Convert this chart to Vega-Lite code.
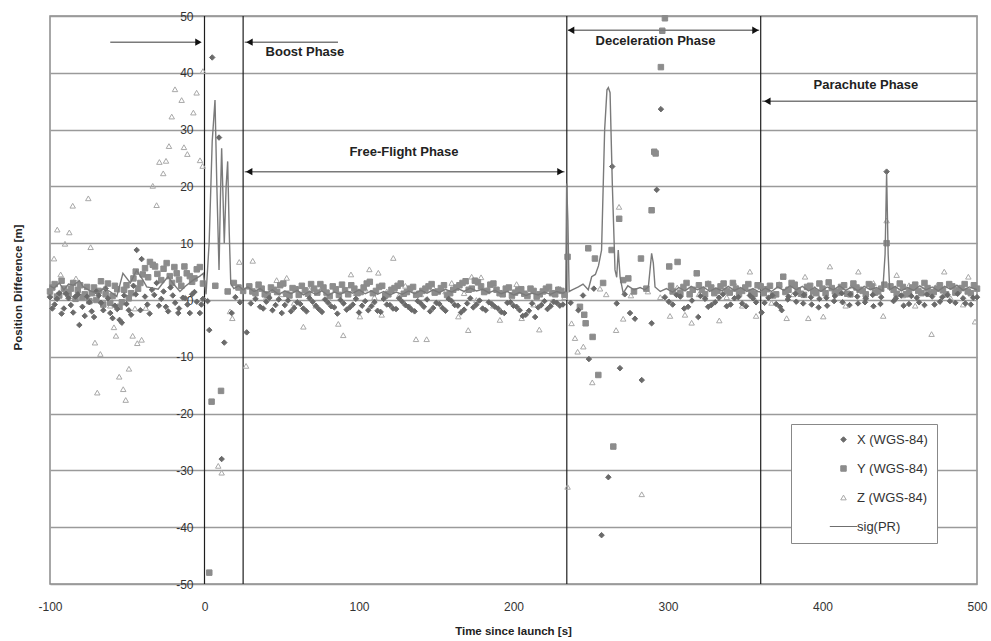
{
"$schema": "https://vega.github.io/schema/vega-lite/v6.json",
"width": 927, "height": 568,
"autosize": "none",
"padding": {"left": 50, "top": 16, "right": 14, "bottom": 57},
"background": "white",
"config": {"view": {"stroke": "#8a8a8a", "strokeWidth": 1.5}, "font": "Liberation Sans"},
"datasets": {
"phase": [{"t": 0, "v": -50, "v2": 50}, {"t": 25, "v": -50, "v2": 50}, {"t": 234.5, "v": -50, "v2": 50}, {"t": 360, "v": -50, "v2": 50}],
"shafts": [{"t": -61, "t2": -4, "v": 45.4}, {"t": 26, "t2": 86.4, "v": 45.4}, {"t": 26, "t2": 233, "v": 22.6}, {"t": 235, "t2": 359, "v": 47.5}, {"t": 361, "t2": 500, "v": 35.0}],
"headsR": [{"t": -3.9, "v": 45.4}, {"t": 230.4, "v": 22.6}, {"t": 356.6, "v": 47.5}],
"headsL": [{"t": 29.1, "v": 45.4}, {"t": 28.9, "v": 22.6}, {"t": 237.3, "v": 47.5}, {"t": 364.3, "v": 35.0}],
"labels": [{"t": 65, "v": 43.7, "label": "Boost Phase"}, {"t": 129.1, "v": 26.1, "label": "Free-Flight Phase"}, {"t": 291.9, "v": 45.65, "label": "Deceleration Phase"}, {"t": 428.1, "v": 37.85, "label": "Parachute Phase"}],
"sig": [
{"t":-100,"v":2.5},{"t":-97.4,"v":2.1},{"t":-94,"v":3.0},{"t":-91,"v":1.8},{"t":-88,"v":2.8},{"t":-84.9,"v":2.6},{"t":-81,"v":3.4},{"t":-78.4,"v":2.3},{"t":-74,"v":1.6},{"t":-69.8,"v":1.2},{"t":-65,"v":2.0},{"t":-61.2,"v":1.5},{"t":-56.8,"v":0.6},{"t":-52.8,"v":4.7},{"t":-48,"v":3.0},{"t":-44,"v":5.2},{"t":-40,"v":3.6},{"t":-37.4,"v":2.3},{"t":-30,"v":1.9},{"t":-27,"v":3.0},{"t":-23.6,"v":4.1},{"t":-20,"v":2.8},{"t":-15.9,"v":1.5},{"t":-12,"v":2.5},{"t":-7.3,"v":3.5},{"t":-3,"v":4.2},{"t":-0.8,"v":4.7},{"t":1,"v":1.0},{"t":3,"v":10},{"t":5,"v":28},{"t":6.8,"v":35.2},{"t":8,"v":20},{"t":9.4,"v":5.3},{"t":10.3,"v":18},{"t":11.1,"v":26.7},{"t":12,"v":18},{"t":12.8,"v":10},{"t":14,"v":20},{"t":15,"v":24.4},{"t":16,"v":12},{"t":17,"v":2.9},{"t":19,"v":2.0},{"t":22,"v":2.5},{"t":25,"v":1.8},{"t":28,"v":2.3},{"t":32,"v":1.5},{"t":36,"v":2.0},{"t":40,"v":1.2},{"t":44,"v":1.8},{"t":48,"v":1.0},{"t":52,"v":1.6},{"t":56,"v":1.1},{"t":60,"v":1.7},{"t":64,"v":0.9},{"t":68,"v":1.5},{"t":72,"v":1.0},{"t":76,"v":1.6},{"t":80,"v":0.8},{"t":84,"v":1.4},{"t":88,"v":1.0},{"t":92,"v":1.6},{"t":96,"v":1.2},{"t":100,"v":1.8},{"t":104,"v":1.1},{"t":108,"v":1.6},{"t":112,"v":1.0},{"t":116,"v":1.5},{"t":120,"v":0.9},{"t":124,"v":1.4},{"t":128,"v":1.0},{"t":132,"v":1.6},{"t":136,"v":1.1},{"t":140,"v":1.7},{"t":144,"v":1.2},{"t":148,"v":1.8},{"t":152,"v":1.3},{"t":156,"v":1.9},{"t":160,"v":1.4},{"t":164,"v":2.0},{"t":168,"v":1.5},{"t":172,"v":2.1},{"t":176,"v":1.6},{"t":180,"v":1.9},{"t":184,"v":1.3},{"t":188,"v":1.7},{"t":192,"v":1.1},{"t":196,"v":1.5},{"t":200,"v":0.9},{"t":204,"v":1.3},{"t":208,"v":0.8},{"t":212,"v":1.2},{"t":216,"v":0.9},{"t":220,"v":1.4},{"t":224,"v":1.0},{"t":228,"v":1.5},{"t":232,"v":1.2},{"t":233.8,"v":1.5},{"t":234.4,"v":20.5},{"t":235.2,"v":14},{"t":236,"v":1.5},{"t":238,"v":1.8},{"t":242,"v":2.3},{"t":245,"v":2.8},{"t":248.4,"v":1.8},{"t":250.6,"v":4.1},{"t":253,"v":4.5},{"t":255,"v":6.0},{"t":257,"v":8.8},{"t":259,"v":30},{"t":260.5,"v":37},{"t":261.4,"v":37.4},{"t":262.5,"v":36.5},{"t":264,"v":20},{"t":265.7,"v":5.3},{"t":266.8,"v":4.0},{"t":267.8,"v":8.8},{"t":269,"v":4.0},{"t":271,"v":1.2},{"t":274,"v":2.5},{"t":278,"v":1.8},{"t":282,"v":2.2},{"t":285,"v":1.8},{"t":287.3,"v":2.3},{"t":289.4,"v":8.2},{"t":290.5,"v":6.5},{"t":291.6,"v":2.3},{"t":295,"v":1.5},{"t":299,"v":2.0},{"t":303,"v":1.4},{"t":307,"v":2.2},{"t":311,"v":1.6},{"t":315,"v":2.4},{"t":319,"v":1.8},{"t":323,"v":2.3},{"t":327,"v":1.5},{"t":331,"v":2.1},{"t":335,"v":1.6},{"t":339,"v":2.4},{"t":343,"v":1.7},{"t":347,"v":2.2},{"t":351,"v":1.5},{"t":355,"v":2.0},{"t":359,"v":1.4},{"t":363,"v":2.1},{"t":367,"v":1.5},{"t":371,"v":2.3},{"t":375,"v":1.7},{"t":379,"v":2.5},{"t":383,"v":1.8},{"t":387,"v":2.4},{"t":391,"v":1.6},{"t":395,"v":2.2},{"t":399,"v":1.5},{"t":403,"v":2.3},{"t":407,"v":1.8},{"t":411,"v":2.5},{"t":415,"v":1.7},{"t":419,"v":2.3},{"t":423,"v":1.6},{"t":427,"v":2.4},{"t":431,"v":1.8},{"t":435,"v":2.2},{"t":439,"v":1.6},{"t":440.5,"v":8},{"t":441.5,"v":22.3},{"t":442.5,"v":8},{"t":443.5,"v":1.8},{"t":447,"v":2.4},{"t":451,"v":1.6},{"t":455,"v":2.2},{"t":459,"v":1.7},{"t":463,"v":2.5},{"t":467,"v":1.8},{"t":471,"v":2.3},{"t":475,"v":1.6},{"t":479,"v":2.4},{"t":483,"v":1.9},{"t":487,"v":2.6},{"t":491,"v":1.7},{"t":495,"v":2.3},{"t":500,"v":1.8}
],
"pts": [
{"t":-100,"s":"Z (WGS-84)","v":1.0},{"t":-97.4,"s":"Z (WGS-84)","v":7.3},{"t":-95.3,"s":"Z (WGS-84)","v":12.4},{"t":-93.1,"s":"Z (WGS-84)","v":4.5},{"t":-90.3,"s":"Z (WGS-84)","v":9.9},{"t":-87.5,"s":"Z (WGS-84)","v":11.9},{"t":-85.3,"s":"Z (WGS-84)","v":16.6},{"t":-83.2,"s":"Z (WGS-84)","v":3.8},{"t":-79,"s":"Z (WGS-84)","v":0.5},{"t":-75.2,"s":"Z (WGS-84)","v":17.9},{"t":-73.7,"s":"Z (WGS-84)","v":9.3},{"t":-70.9,"s":"Z (WGS-84)","v":-7.5},{"t":-69.4,"s":"Z (WGS-84)","v":-16.3},{"t":-67.4,"s":"Z (WGS-84)","v":-9.5},{"t":-65,"s":"Z (WGS-84)","v":2.0},{"t":-61,"s":"Z (WGS-84)","v":-1.0},{"t":-58.6,"s":"Z (WGS-84)","v":-4.8},{"t":-57.3,"s":"Z (WGS-84)","v":-6.3},{"t":-55.2,"s":"Z (WGS-84)","v":-13.5},{"t":-52.6,"s":"Z (WGS-84)","v":-15.7},{"t":-51,"s":"Z (WGS-84)","v":-17.6},{"t":-48.9,"s":"Z (WGS-84)","v":-12.1},{"t":-46.5,"s":"Z (WGS-84)","v":-6.3},{"t":-45,"s":"Z (WGS-84)","v":-1.5},{"t":-43.5,"s":"Z (WGS-84)","v":-7.6},{"t":-40.7,"s":"Z (WGS-84)","v":-7.0},{"t":-38,"s":"Z (WGS-84)","v":-1.4},{"t":-33.5,"s":"Z (WGS-84)","v":20.1},{"t":-31,"s":"Z (WGS-84)","v":16.7},{"t":-29.2,"s":"Z (WGS-84)","v":24.3},{"t":-26.7,"s":"Z (WGS-84)","v":22.3},{"t":-24.9,"s":"Z (WGS-84)","v":24.5},{"t":-23,"s":"Z (WGS-84)","v":27.1},{"t":-21.2,"s":"Z (WGS-84)","v":32.3},{"t":-19.1,"s":"Z (WGS-84)","v":37.1},{"t":-14.8,"s":"Z (WGS-84)","v":35.2},{"t":-13.3,"s":"Z (WGS-84)","v":26.9},{"t":-11.1,"s":"Z (WGS-84)","v":25.7},{"t":-7.2,"s":"Z (WGS-84)","v":33.0},{"t":-5.1,"s":"Z (WGS-84)","v":36.5},{"t":-2.9,"s":"Z (WGS-84)","v":24.6},{"t":-1.2,"s":"Z (WGS-84)","v":23.6},{"t":-1,"s":"Z (WGS-84)","v":40.3},{"t":8.9,"s":"Z (WGS-84)","v":-29.2},{"t":11.1,"s":"Z (WGS-84)","v":-30.4},{"t":16.5,"s":"Z (WGS-84)","v":-2.0},{"t":18,"s":"Z (WGS-84)","v":-3.2},{"t":22.5,"s":"Z (WGS-84)","v":6.7},{"t":26.9,"s":"Z (WGS-84)","v":-11.6},{"t":31.2,"s":"Z (WGS-84)","v":6.9},{"t":35,"s":"Z (WGS-84)","v":2.5},{"t":40,"s":"Z (WGS-84)","v":0.5},{"t":46.7,"s":"Z (WGS-84)","v":3.5},{"t":50,"s":"Z (WGS-84)","v":1.0},{"t":53.2,"s":"Z (WGS-84)","v":3.9},{"t":58,"s":"Z (WGS-84)","v":-0.5},{"t":64,"s":"Z (WGS-84)","v":-4.7},{"t":68,"s":"Z (WGS-84)","v":1.8},{"t":72,"s":"Z (WGS-84)","v":-1.0},{"t":76,"s":"Z (WGS-84)","v":2.2},{"t":80,"s":"Z (WGS-84)","v":0.3},{"t":86.6,"s":"Z (WGS-84)","v":-4.2},{"t":89.8,"s":"Z (WGS-84)","v":-6.2},{"t":94.8,"s":"Z (WGS-84)","v":4.5},{"t":98,"s":"Z (WGS-84)","v":1.2},{"t":100.6,"s":"Z (WGS-84)","v":-2.9},{"t":104,"s":"Z (WGS-84)","v":2.0},{"t":106.7,"s":"Z (WGS-84)","v":5.4},{"t":110,"s":"Z (WGS-84)","v":0.5},{"t":112.5,"s":"Z (WGS-84)","v":4.8},{"t":114.7,"s":"Z (WGS-84)","v":-2.6},{"t":118,"s":"Z (WGS-84)","v":1.5},{"t":122.2,"s":"Z (WGS-84)","v":7.4},{"t":126,"s":"Z (WGS-84)","v":0.8},{"t":130,"s":"Z (WGS-84)","v":2.5},{"t":133,"s":"Z (WGS-84)","v":-1.2},{"t":136.9,"s":"Z (WGS-84)","v":-6.9},{"t":140,"s":"Z (WGS-84)","v":1.0},{"t":143.8,"s":"Z (WGS-84)","v":-6.9},{"t":148,"s":"Z (WGS-84)","v":2.2},{"t":152,"s":"Z (WGS-84)","v":-0.5},{"t":156,"s":"Z (WGS-84)","v":1.5},{"t":160,"s":"Z (WGS-84)","v":3.0},{"t":164.3,"s":"Z (WGS-84)","v":-2.9},{"t":168,"s":"Z (WGS-84)","v":1.2},{"t":170.7,"s":"Z (WGS-84)","v":-5.3},{"t":172.9,"s":"Z (WGS-84)","v":4.1},{"t":176,"s":"Z (WGS-84)","v":0.0},{"t":179,"s":"Z (WGS-84)","v":4.0},{"t":183,"s":"Z (WGS-84)","v":1.8},{"t":187,"s":"Z (WGS-84)","v":-1.0},{"t":191.2,"s":"Z (WGS-84)","v":-3.5},{"t":195,"s":"Z (WGS-84)","v":2.0},{"t":199,"s":"Z (WGS-84)","v":0.6},{"t":202,"s":"Z (WGS-84)","v":2.8},{"t":205.3,"s":"Z (WGS-84)","v":-3.2},{"t":209,"s":"Z (WGS-84)","v":1.0},{"t":213,"s":"Z (WGS-84)","v":-0.8},{"t":216.7,"s":"Z (WGS-84)","v":-5.2},{"t":220,"s":"Z (WGS-84)","v":1.6},{"t":225,"s":"Z (WGS-84)","v":-0.3},{"t":229,"s":"Z (WGS-84)","v":2.0},{"t":233,"s":"Z (WGS-84)","v":0.5},{"t":235,"s":"Z (WGS-84)","v":-32.9},{"t":237.6,"s":"Z (WGS-84)","v":-4.1},{"t":239.8,"s":"Z (WGS-84)","v":-6.7},{"t":241.5,"s":"Z (WGS-84)","v":-9.1},{"t":245.2,"s":"Z (WGS-84)","v":-8.2},{"t":251,"s":"Z (WGS-84)","v":-14.5},{"t":256,"s":"Z (WGS-84)","v":2.0},{"t":260,"s":"Z (WGS-84)","v":1.0},{"t":266.4,"s":"Z (WGS-84)","v":-5.3},{"t":268.3,"s":"Z (WGS-84)","v":16.4},{"t":271,"s":"Z (WGS-84)","v":-3.3},{"t":276,"s":"Z (WGS-84)","v":0.8},{"t":283,"s":"Z (WGS-84)","v":-34.2},{"t":287,"s":"Z (WGS-84)","v":1.5},{"t":295,"s":"Z (WGS-84)","v":0.5},{"t":301.3,"s":"Z (WGS-84)","v":-2.8},{"t":306,"s":"Z (WGS-84)","v":2.2},{"t":311,"s":"Z (WGS-84)","v":-2.6},{"t":315.3,"s":"Z (WGS-84)","v":-4.0},{"t":320,"s":"Z (WGS-84)","v":1.0},{"t":326,"s":"Z (WGS-84)","v":3.0},{"t":333.2,"s":"Z (WGS-84)","v":-3.6},{"t":338,"s":"Z (WGS-84)","v":0.5},{"t":344,"s":"Z (WGS-84)","v":2.5},{"t":348,"s":"Z (WGS-84)","v":-1.0},{"t":353,"s":"Z (WGS-84)","v":5.0},{"t":357,"s":"Z (WGS-84)","v":-2.8},{"t":362,"s":"Z (WGS-84)","v":1.5},{"t":367,"s":"Z (WGS-84)","v":-0.5},{"t":372,"s":"Z (WGS-84)","v":2.8},{"t":376.8,"s":"Z (WGS-84)","v":-3.2},{"t":381,"s":"Z (WGS-84)","v":1.0},{"t":388.7,"s":"Z (WGS-84)","v":4.1},{"t":390.8,"s":"Z (WGS-84)","v":-3.2},{"t":395,"s":"Z (WGS-84)","v":2.0},{"t":400.5,"s":"Z (WGS-84)","v":-2.9},{"t":404.8,"s":"Z (WGS-84)","v":5.9},{"t":410,"s":"Z (WGS-84)","v":1.2},{"t":415,"s":"Z (WGS-84)","v":-1.0},{"t":419,"s":"Z (WGS-84)","v":2.5},{"t":423.2,"s":"Z (WGS-84)","v":5.0},{"t":428,"s":"Z (WGS-84)","v":0.5},{"t":433,"s":"Z (WGS-84)","v":3.0},{"t":439.3,"s":"Z (WGS-84)","v":-2.8},{"t":441.5,"s":"Z (WGS-84)","v":14.0},{"t":448,"s":"Z (WGS-84)","v":4.4},{"t":452,"s":"Z (WGS-84)","v":0.8},{"t":456,"s":"Z (WGS-84)","v":2.6},{"t":460,"s":"Z (WGS-84)","v":-1.0},{"t":465,"s":"Z (WGS-84)","v":1.8},{"t":470.6,"s":"Z (WGS-84)","v":-6.0},{"t":474,"s":"Z (WGS-84)","v":2.5},{"t":478.8,"s":"Z (WGS-84)","v":5.0},{"t":483,"s":"Z (WGS-84)","v":0.3},{"t":487,"s":"Z (WGS-84)","v":2.2},{"t":491,"s":"Z (WGS-84)","v":-0.8},{"t":494.4,"s":"Z (WGS-84)","v":4.1},{"t":498.7,"s":"Z (WGS-84)","v":-3.8},
{"t":-100,"s":"Y (WGS-84)","v":1.5},{"t":-97,"s":"Y (WGS-84)","v":2.8},{"t":-94,"s":"Y (WGS-84)","v":0.8},{"t":-91,"s":"Y (WGS-84)","v":2.0},{"t":-88,"s":"Y (WGS-84)","v":1.0},{"t":-85,"s":"Y (WGS-84)","v":3.0},{"t":-82,"s":"Y (WGS-84)","v":1.8},{"t":-79,"s":"Y (WGS-84)","v":0.5},{"t":-76,"s":"Y (WGS-84)","v":2.3},{"t":-73,"s":"Y (WGS-84)","v":1.2},{"t":-70,"s":"Y (WGS-84)","v":0.0},{"t":-67,"s":"Y (WGS-84)","v":3.3},{"t":-64,"s":"Y (WGS-84)","v":1.0},{"t":-61,"s":"Y (WGS-84)","v":-0.5},{"t":-58,"s":"Y (WGS-84)","v":2.5},{"t":-55,"s":"Y (WGS-84)","v":-1.2},{"t":-52,"s":"Y (WGS-84)","v":1.8},{"t":-49,"s":"Y (WGS-84)","v":0.3},{"t":-46,"s":"Y (WGS-84)","v":3.8},{"t":-43,"s":"Y (WGS-84)","v":2.0},{"t":-40,"s":"Y (WGS-84)","v":4.5},{"t":-35.3,"s":"Y (WGS-84)","v":6.7},{"t":-32,"s":"Y (WGS-84)","v":5.9},{"t":-28,"s":"Y (WGS-84)","v":3.5},{"t":-24.5,"s":"Y (WGS-84)","v":6.5},{"t":-21,"s":"Y (WGS-84)","v":3.0},{"t":-18,"s":"Y (WGS-84)","v":4.7},{"t":-15,"s":"Y (WGS-84)","v":2.5},{"t":-11.5,"s":"Y (WGS-84)","v":4.7},{"t":-8,"s":"Y (WGS-84)","v":3.2},{"t":-5,"s":"Y (WGS-84)","v":5.4},{"t":-1,"s":"Y (WGS-84)","v":2.9},
{"t":-98.5,"s":"Y (WGS-84)","v":2.2},{"t":-95.5,"s":"Y (WGS-84)","v":0.6},{"t":-92.5,"s":"Y (WGS-84)","v":3.4},{"t":-89.5,"s":"Y (WGS-84)","v":1.4},{"t":-86.5,"s":"Y (WGS-84)","v":2.0},{"t":-83.5,"s":"Y (WGS-84)","v":0.2},{"t":-80.5,"s":"Y (WGS-84)","v":2.6},{"t":-77.5,"s":"Y (WGS-84)","v":1.0},{"t":-74.5,"s":"Y (WGS-84)","v":-0.2},{"t":-71.5,"s":"Y (WGS-84)","v":2.2},{"t":-68.5,"s":"Y (WGS-84)","v":1.6},{"t":-65.5,"s":"Y (WGS-84)","v":-0.8},{"t":-62.5,"s":"Y (WGS-84)","v":2.9},{"t":-59.5,"s":"Y (WGS-84)","v":0.7},{"t":-56.5,"s":"Y (WGS-84)","v":1.9},{"t":-53.5,"s":"Y (WGS-84)","v":-0.4},{"t":-50.5,"s":"Y (WGS-84)","v":2.6},{"t":-47.5,"s":"Y (WGS-84)","v":1.2},{"t":-44.5,"s":"Y (WGS-84)","v":5.0},{"t":-41.5,"s":"Y (WGS-84)","v":3.0},{"t":-38.5,"s":"Y (WGS-84)","v":5.6},{"t":-36.5,"s":"Y (WGS-84)","v":4.0},{"t":-33.5,"s":"Y (WGS-84)","v":6.2},{"t":-30.5,"s":"Y (WGS-84)","v":4.6},{"t":-26.5,"s":"Y (WGS-84)","v":5.5},{"t":-22.5,"s":"Y (WGS-84)","v":4.2},{"t":-19.5,"s":"Y (WGS-84)","v":5.8},{"t":-16.5,"s":"Y (WGS-84)","v":3.6},{"t":-13,"s":"Y (WGS-84)","v":5.9},{"t":-9.5,"s":"Y (WGS-84)","v":4.2},{"t":-6.5,"s":"Y (WGS-84)","v":3.8},{"t":-3,"s":"Y (WGS-84)","v":5.8},
{"t":3.1,"s":"Y (WGS-84)","v":-48.0},{"t":4.6,"s":"Y (WGS-84)","v":-17.9},{"t":7,"s":"Y (WGS-84)","v":2.5},{"t":10.7,"s":"Y (WGS-84)","v":-16.0},{"t":15,"s":"Y (WGS-84)","v":1.5},{"t":19,"s":"Y (WGS-84)","v":3.0},{"t":22,"s":"Y (WGS-84)","v":2.2},{"t":25,"s":"Y (WGS-84)","v":1.6},{"t":29,"s":"Y (WGS-84)","v":2.4},{"t":33,"s":"Y (WGS-84)","v":1.2},{"t":37,"s":"Y (WGS-84)","v":2.0},{"t":41,"s":"Y (WGS-84)","v":0.8},{"t":45,"s":"Y (WGS-84)","v":1.8},{"t":49,"s":"Y (WGS-84)","v":2.6},{"t":53,"s":"Y (WGS-84)","v":1.1},{"t":57,"s":"Y (WGS-84)","v":2.1},{"t":61,"s":"Y (WGS-84)","v":0.9},{"t":65,"s":"Y (WGS-84)","v":1.7},{"t":69,"s":"Y (WGS-84)","v":2.8},{"t":73,"s":"Y (WGS-84)","v":1.3},{"t":77,"s":"Y (WGS-84)","v":2.2},{"t":81,"s":"Y (WGS-84)","v":0.7},{"t":85,"s":"Y (WGS-84)","v":1.9},{"t":89,"s":"Y (WGS-84)","v":2.7},{"t":93,"s":"Y (WGS-84)","v":1.0},{"t":97,"s":"Y (WGS-84)","v":2.0},{"t":101,"s":"Y (WGS-84)","v":1.4},{"t":105,"s":"Y (WGS-84)","v":2.9},{"t":109,"s":"Y (WGS-84)","v":1.2},{"t":113,"s":"Y (WGS-84)","v":2.3},{"t":117,"s":"Y (WGS-84)","v":0.8},{"t":121,"s":"Y (WGS-84)","v":1.8},{"t":125,"s":"Y (WGS-84)","v":2.5},{"t":129,"s":"Y (WGS-84)","v":1.1},{"t":133,"s":"Y (WGS-84)","v":2.0},{"t":137,"s":"Y (WGS-84)","v":0.9},{"t":141,"s":"Y (WGS-84)","v":1.6},{"t":145,"s":"Y (WGS-84)","v":2.4},{"t":149,"s":"Y (WGS-84)","v":1.3},{"t":153,"s":"Y (WGS-84)","v":2.1},{"t":157,"s":"Y (WGS-84)","v":0.9},{"t":161,"s":"Y (WGS-84)","v":1.8},{"t":165,"s":"Y (WGS-84)","v":2.6},{"t":169,"s":"Y (WGS-84)","v":3.3},{"t":173,"s":"Y (WGS-84)","v":2.0},{"t":177,"s":"Y (WGS-84)","v":3.1},{"t":181,"s":"Y (WGS-84)","v":1.4},{"t":185,"s":"Y (WGS-84)","v":2.7},{"t":189,"s":"Y (WGS-84)","v":1.8},{"t":193,"s":"Y (WGS-84)","v":1.0},{"t":197,"s":"Y (WGS-84)","v":2.2},{"t":201,"s":"Y (WGS-84)","v":1.3},{"t":205,"s":"Y (WGS-84)","v":1.9},{"t":209,"s":"Y (WGS-84)","v":0.7},{"t":213,"s":"Y (WGS-84)","v":1.6},{"t":217,"s":"Y (WGS-84)","v":1.0},{"t":221,"s":"Y (WGS-84)","v":2.0},{"t":225,"s":"Y (WGS-84)","v":1.2},{"t":229,"s":"Y (WGS-84)","v":1.8},{"t":233,"s":"Y (WGS-84)","v":0.9},
{"t":31,"s":"Y (WGS-84)","v":1.5},{"t":35,"s":"Y (WGS-84)","v":2.7},{"t":39,"s":"Y (WGS-84)","v":1.0},{"t":43,"s":"Y (WGS-84)","v":2.2},{"t":47,"s":"Y (WGS-84)","v":1.4},{"t":51,"s":"Y (WGS-84)","v":2.9},{"t":55,"s":"Y (WGS-84)","v":0.8},{"t":59,"s":"Y (WGS-84)","v":1.9},{"t":63,"s":"Y (WGS-84)","v":2.5},{"t":67,"s":"Y (WGS-84)","v":1.1},{"t":71,"s":"Y (WGS-84)","v":2.0},{"t":75,"s":"Y (WGS-84)","v":2.8},{"t":79,"s":"Y (WGS-84)","v":1.3},{"t":83,"s":"Y (WGS-84)","v":2.4},{"t":87,"s":"Y (WGS-84)","v":0.9},{"t":91,"s":"Y (WGS-84)","v":1.7},{"t":95,"s":"Y (WGS-84)","v":2.6},{"t":99,"s":"Y (WGS-84)","v":1.2},{"t":103,"s":"Y (WGS-84)","v":2.2},{"t":107,"s":"Y (WGS-84)","v":3.2},{"t":111,"s":"Y (WGS-84)","v":1.6},{"t":115,"s":"Y (WGS-84)","v":2.5},{"t":119,"s":"Y (WGS-84)","v":1.0},{"t":123,"s":"Y (WGS-84)","v":2.1},{"t":127,"s":"Y (WGS-84)","v":2.9},{"t":131,"s":"Y (WGS-84)","v":1.4},{"t":135,"s":"Y (WGS-84)","v":2.3},{"t":139,"s":"Y (WGS-84)","v":1.1},{"t":143,"s":"Y (WGS-84)","v":2.0},{"t":147,"s":"Y (WGS-84)","v":2.8},{"t":151,"s":"Y (WGS-84)","v":1.5},{"t":155,"s":"Y (WGS-84)","v":2.6},{"t":159,"s":"Y (WGS-84)","v":1.2},{"t":163,"s":"Y (WGS-84)","v":2.2},{"t":167,"s":"Y (WGS-84)","v":3.0},{"t":171,"s":"Y (WGS-84)","v":1.8},{"t":175,"s":"Y (WGS-84)","v":3.4},{"t":179,"s":"Y (WGS-84)","v":2.4},{"t":183,"s":"Y (WGS-84)","v":1.6},{"t":187,"s":"Y (WGS-84)","v":2.9},{"t":191,"s":"Y (WGS-84)","v":1.2},{"t":195,"s":"Y (WGS-84)","v":2.0},{"t":199,"s":"Y (WGS-84)","v":0.8},{"t":203,"s":"Y (WGS-84)","v":1.7},{"t":207,"s":"Y (WGS-84)","v":1.1},{"t":211,"s":"Y (WGS-84)","v":2.0},{"t":215,"s":"Y (WGS-84)","v":0.6},{"t":219,"s":"Y (WGS-84)","v":1.5},{"t":223,"s":"Y (WGS-84)","v":2.3},{"t":227,"s":"Y (WGS-84)","v":1.0},{"t":231,"s":"Y (WGS-84)","v":1.6},
{"t":235,"s":"Y (WGS-84)","v":7.6},{"t":243,"s":"Y (WGS-84)","v":-1.2},{"t":245.8,"s":"Y (WGS-84)","v":-2.6},{"t":246.7,"s":"Y (WGS-84)","v":-4.1},{"t":248.4,"s":"Y (WGS-84)","v":9.1},{"t":251.2,"s":"Y (WGS-84)","v":-6.5},{"t":252.7,"s":"Y (WGS-84)","v":7.3},{"t":254.9,"s":"Y (WGS-84)","v":-13.2},{"t":258,"s":"Y (WGS-84)","v":3.0},{"t":263.5,"s":"Y (WGS-84)","v":8.8},{"t":264.6,"s":"Y (WGS-84)","v":-25.8},{"t":268.4,"s":"Y (WGS-84)","v":14.3},{"t":271,"s":"Y (WGS-84)","v":3.5},{"t":274.3,"s":"Y (WGS-84)","v":3.8},{"t":278,"s":"Y (WGS-84)","v":1.5},{"t":282.5,"s":"Y (WGS-84)","v":7.3},{"t":286,"s":"Y (WGS-84)","v":2.0},{"t":289.4,"s":"Y (WGS-84)","v":15.8},{"t":291.1,"s":"Y (WGS-84)","v":26.1},{"t":292,"s":"Y (WGS-84)","v":25.8},{"t":295.4,"s":"Y (WGS-84)","v":41.0},{"t":296.3,"s":"Y (WGS-84)","v":47.4},{"t":298,"s":"Y (WGS-84)","v":49.6},{"t":300.8,"s":"Y (WGS-84)","v":5.9},{"t":303,"s":"Y (WGS-84)","v":1.5},{"t":306.2,"s":"Y (WGS-84)","v":6.7},{"t":310,"s":"Y (WGS-84)","v":2.3},{"t":314,"s":"Y (WGS-84)","v":1.0},{"t":318.6,"s":"Y (WGS-84)","v":4.7},{"t":322,"s":"Y (WGS-84)","v":1.8},{"t":326,"s":"Y (WGS-84)","v":2.8},{"t":330,"s":"Y (WGS-84)","v":1.2},{"t":334,"s":"Y (WGS-84)","v":2.4},{"t":338,"s":"Y (WGS-84)","v":1.6},{"t":342,"s":"Y (WGS-84)","v":3.0},{"t":346,"s":"Y (WGS-84)","v":1.1},{"t":350,"s":"Y (WGS-84)","v":2.2},{"t":354,"s":"Y (WGS-84)","v":1.4},{"t":358,"s":"Y (WGS-84)","v":2.6},
{"t":302,"s":"Y (WGS-84)","v":2.5},{"t":308,"s":"Y (WGS-84)","v":1.2},{"t":312,"s":"Y (WGS-84)","v":3.0},{"t":316,"s":"Y (WGS-84)","v":1.8},{"t":320,"s":"Y (WGS-84)","v":2.6},{"t":324,"s":"Y (WGS-84)","v":1.0},{"t":328,"s":"Y (WGS-84)","v":2.2},{"t":332,"s":"Y (WGS-84)","v":1.6},{"t":336,"s":"Y (WGS-84)","v":2.9},{"t":340,"s":"Y (WGS-84)","v":1.3},{"t":344,"s":"Y (WGS-84)","v":2.0},{"t":348,"s":"Y (WGS-84)","v":1.6},{"t":352,"s":"Y (WGS-84)","v":2.8},{"t":356,"s":"Y (WGS-84)","v":1.1},{"t":360,"s":"Y (WGS-84)","v":2.4},
{"t":362,"s":"Y (WGS-84)","v":1.2},{"t":366,"s":"Y (WGS-84)","v":2.5},{"t":370,"s":"Y (WGS-84)","v":1.0},{"t":374.6,"s":"Y (WGS-84)","v":4.1},{"t":378,"s":"Y (WGS-84)","v":1.8},{"t":382,"s":"Y (WGS-84)","v":2.7},{"t":386,"s":"Y (WGS-84)","v":1.1},{"t":390,"s":"Y (WGS-84)","v":2.3},{"t":394,"s":"Y (WGS-84)","v":1.5},{"t":398,"s":"Y (WGS-84)","v":2.9},{"t":402,"s":"Y (WGS-84)","v":1.2},{"t":406,"s":"Y (WGS-84)","v":2.1},{"t":410,"s":"Y (WGS-84)","v":1.4},{"t":414,"s":"Y (WGS-84)","v":2.6},{"t":418,"s":"Y (WGS-84)","v":1.0},{"t":422,"s":"Y (WGS-84)","v":2.2},{"t":426,"s":"Y (WGS-84)","v":1.6},{"t":430,"s":"Y (WGS-84)","v":2.8},{"t":434,"s":"Y (WGS-84)","v":1.3},{"t":438,"s":"Y (WGS-84)","v":2.0},{"t":441.5,"s":"Y (WGS-84)","v":10.0},{"t":444,"s":"Y (WGS-84)","v":2.4},{"t":448,"s":"Y (WGS-84)","v":1.1},{"t":452,"s":"Y (WGS-84)","v":2.3},{"t":456,"s":"Y (WGS-84)","v":1.5},{"t":460,"s":"Y (WGS-84)","v":2.7},{"t":464,"s":"Y (WGS-84)","v":1.2},{"t":468,"s":"Y (WGS-84)","v":2.1},{"t":472,"s":"Y (WGS-84)","v":1.4},{"t":476,"s":"Y (WGS-84)","v":2.6},{"t":480,"s":"Y (WGS-84)","v":1.0},{"t":484,"s":"Y (WGS-84)","v":2.4},{"t":488,"s":"Y (WGS-84)","v":1.7},{"t":492,"s":"Y (WGS-84)","v":2.8},{"t":496,"s":"Y (WGS-84)","v":1.2},{"t":500,"s":"Y (WGS-84)","v":2.0},
{"t":364,"s":"Y (WGS-84)","v":1.9},{"t":368,"s":"Y (WGS-84)","v":0.8},{"t":372,"s":"Y (WGS-84)","v":2.6},{"t":376,"s":"Y (WGS-84)","v":1.4},{"t":380,"s":"Y (WGS-84)","v":3.0},{"t":384,"s":"Y (WGS-84)","v":1.7},{"t":388,"s":"Y (WGS-84)","v":0.9},{"t":392,"s":"Y (WGS-84)","v":2.5},{"t":396,"s":"Y (WGS-84)","v":1.2},{"t":400,"s":"Y (WGS-84)","v":2.0},{"t":404,"s":"Y (WGS-84)","v":3.1},{"t":408,"s":"Y (WGS-84)","v":1.5},{"t":412,"s":"Y (WGS-84)","v":2.3},{"t":416,"s":"Y (WGS-84)","v":1.1},{"t":420,"s":"Y (WGS-84)","v":2.9},{"t":424,"s":"Y (WGS-84)","v":1.8},{"t":428,"s":"Y (WGS-84)","v":1.0},{"t":432,"s":"Y (WGS-84)","v":2.4},{"t":436,"s":"Y (WGS-84)","v":1.5},{"t":440,"s":"Y (WGS-84)","v":2.7},{"t":446,"s":"Y (WGS-84)","v":1.8},{"t":450,"s":"Y (WGS-84)","v":2.9},{"t":454,"s":"Y (WGS-84)","v":1.0},{"t":458,"s":"Y (WGS-84)","v":2.2},{"t":462,"s":"Y (WGS-84)","v":1.6},{"t":466,"s":"Y (WGS-84)","v":3.0},{"t":470,"s":"Y (WGS-84)","v":1.1},{"t":474,"s":"Y (WGS-84)","v":2.0},{"t":478,"s":"Y (WGS-84)","v":1.7},{"t":482,"s":"Y (WGS-84)","v":2.8},{"t":486,"s":"Y (WGS-84)","v":1.3},{"t":490,"s":"Y (WGS-84)","v":2.1},{"t":494,"s":"Y (WGS-84)","v":1.5},{"t":498,"s":"Y (WGS-84)","v":2.6},
{"t":-100,"s":"X (WGS-84)","v":0.5},{"t":-97,"s":"X (WGS-84)","v":-0.8},{"t":-94,"s":"X (WGS-84)","v":1.2},{"t":-91,"s":"X (WGS-84)","v":-1.5},{"t":-88,"s":"X (WGS-84)","v":0.3},{"t":-85,"s":"X (WGS-84)","v":-2.2},{"t":-82,"s":"X (WGS-84)","v":1.0},{"t":-81,"s":"X (WGS-84)","v":-4.4},{"t":-79,"s":"X (WGS-84)","v":-1.2},{"t":-76,"s":"X (WGS-84)","v":0.6},{"t":-73,"s":"X (WGS-84)","v":-2.0},{"t":-70,"s":"X (WGS-84)","v":1.5},{"t":-67,"s":"X (WGS-84)","v":-0.5},{"t":-64,"s":"X (WGS-84)","v":2.0},{"t":-61,"s":"X (WGS-84)","v":-2.3},{"t":-58,"s":"X (WGS-84)","v":-1.0},{"t":-55,"s":"X (WGS-84)","v":-3.5},{"t":-52,"s":"X (WGS-84)","v":0.8},{"t":-49,"s":"X (WGS-84)","v":-1.8},{"t":-46,"s":"X (WGS-84)","v":2.5},{"t":-43.9,"s":"X (WGS-84)","v":8.8},{"t":-40.7,"s":"X (WGS-84)","v":7.2},{"t":-37,"s":"X (WGS-84)","v":-0.8},{"t":-34,"s":"X (WGS-84)","v":1.8},{"t":-31,"s":"X (WGS-84)","v":3.0},{"t":-28,"s":"X (WGS-84)","v":0.2},{"t":-25,"s":"X (WGS-84)","v":-1.2},{"t":-22,"s":"X (WGS-84)","v":2.2},{"t":-19,"s":"X (WGS-84)","v":-0.5},{"t":-17,"s":"X (WGS-84)","v":-2.3},{"t":-14,"s":"X (WGS-84)","v":0.4},{"t":-11,"s":"X (WGS-84)","v":-0.8},{"t":-8,"s":"X (WGS-84)","v":1.0},{"t":-5,"s":"X (WGS-84)","v":-0.3},{"t":-3,"s":"X (WGS-84)","v":-2.3},{"t":-1,"s":"X (WGS-84)","v":0.2},
{"t":-98.5,"s":"X (WGS-84)","v":-1.5},{"t":-95.5,"s":"X (WGS-84)","v":0.2},{"t":-92.5,"s":"X (WGS-84)","v":-2.4},{"t":-89.5,"s":"X (WGS-84)","v":1.1},{"t":-86.5,"s":"X (WGS-84)","v":-0.9},{"t":-83.5,"s":"X (WGS-84)","v":0.6},{"t":-77.5,"s":"X (WGS-84)","v":-2.8},{"t":-74.5,"s":"X (WGS-84)","v":-0.4},{"t":-71.5,"s":"X (WGS-84)","v":-3.0},{"t":-68.5,"s":"X (WGS-84)","v":0.8},{"t":-65.5,"s":"X (WGS-84)","v":-1.8},{"t":-62.5,"s":"X (WGS-84)","v":0.3},{"t":-59.5,"s":"X (WGS-84)","v":-3.2},{"t":-56.5,"s":"X (WGS-84)","v":-1.6},{"t":-53.5,"s":"X (WGS-84)","v":-4.0},{"t":-50.5,"s":"X (WGS-84)","v":-0.7},{"t":-47.5,"s":"X (WGS-84)","v":-2.6},{"t":-44.5,"s":"X (WGS-84)","v":1.0},{"t":-41.5,"s":"X (WGS-84)","v":-1.8},{"t":-38.5,"s":"X (WGS-84)","v":0.6},{"t":-35.5,"s":"X (WGS-84)","v":-2.4},{"t":-32.5,"s":"X (WGS-84)","v":0.9},{"t":-29.5,"s":"X (WGS-84)","v":-1.0},{"t":-26.5,"s":"X (WGS-84)","v":1.5},{"t":-23.5,"s":"X (WGS-84)","v":-2.0},{"t":-20.5,"s":"X (WGS-84)","v":0.8},{"t":-16.5,"s":"X (WGS-84)","v":-1.5},{"t":-12.5,"s":"X (WGS-84)","v":0.3},{"t":-9.5,"s":"X (WGS-84)","v":-2.3},{"t":-6.5,"s":"X (WGS-84)","v":1.4},{"t":-2,"s":"X (WGS-84)","v":-0.8},
{"t":2,"s":"X (WGS-84)","v":-0.2},{"t":3.1,"s":"X (WGS-84)","v":-5.3},{"t":5,"s":"X (WGS-84)","v":42.7},{"t":9.4,"s":"X (WGS-84)","v":28.6},{"t":11.1,"s":"X (WGS-84)","v":-28.0},{"t":12.8,"s":"X (WGS-84)","v":-7.5},{"t":17.6,"s":"X (WGS-84)","v":-2.3},{"t":20,"s":"X (WGS-84)","v":0.5},{"t":23,"s":"X (WGS-84)","v":-0.4},{"t":27.3,"s":"X (WGS-84)","v":-5.7},{"t":30,"s":"X (WGS-84)","v":-0.6},{"t":33,"s":"X (WGS-84)","v":0.2},{"t":36,"s":"X (WGS-84)","v":-1.2},{"t":40,"s":"X (WGS-84)","v":-0.3},{"t":44,"s":"X (WGS-84)","v":-1.8},{"t":48,"s":"X (WGS-84)","v":0.1},{"t":52,"s":"X (WGS-84)","v":-0.9},{"t":56,"s":"X (WGS-84)","v":-2.0},{"t":60,"s":"X (WGS-84)","v":-0.4},{"t":64,"s":"X (WGS-84)","v":-1.5},{"t":68,"s":"X (WGS-84)","v":0.3},{"t":72,"s":"X (WGS-84)","v":-1.0},{"t":76,"s":"X (WGS-84)","v":-2.1},{"t":80,"s":"X (WGS-84)","v":-0.5},{"t":84,"s":"X (WGS-84)","v":-1.3},{"t":88,"s":"X (WGS-84)","v":0.0},{"t":92,"s":"X (WGS-84)","v":-1.7},{"t":96,"s":"X (WGS-84)","v":-0.8},{"t":100,"s":"X (WGS-84)","v":-2.2},{"t":104,"s":"X (WGS-84)","v":-0.2},{"t":108,"s":"X (WGS-84)","v":-1.1},{"t":112,"s":"X (WGS-84)","v":-1.9},{"t":116,"s":"X (WGS-84)","v":0.2},{"t":120,"s":"X (WGS-84)","v":-0.9},{"t":124,"s":"X (WGS-84)","v":-1.6},{"t":128,"s":"X (WGS-84)","v":-0.3},{"t":132,"s":"X (WGS-84)","v":-1.2},{"t":136,"s":"X (WGS-84)","v":-2.0},{"t":140,"s":"X (WGS-84)","v":-0.6},{"t":144,"s":"X (WGS-84)","v":0.1},{"t":148,"s":"X (WGS-84)","v":-1.4},{"t":152,"s":"X (WGS-84)","v":-0.7},{"t":156,"s":"X (WGS-84)","v":-1.9},{"t":160,"s":"X (WGS-84)","v":-0.2},{"t":164,"s":"X (WGS-84)","v":-1.0},{"t":168,"s":"X (WGS-84)","v":-1.7},{"t":172,"s":"X (WGS-84)","v":0.3},{"t":176,"s":"X (WGS-84)","v":-0.8},{"t":180,"s":"X (WGS-84)","v":-1.5},{"t":184,"s":"X (WGS-84)","v":-0.4},{"t":188,"s":"X (WGS-84)","v":-1.2},{"t":192,"s":"X (WGS-84)","v":-2.1},{"t":196,"s":"X (WGS-84)","v":-0.5},{"t":200,"s":"X (WGS-84)","v":-1.0},{"t":204,"s":"X (WGS-84)","v":-1.8},{"t":208,"s":"X (WGS-84)","v":-2.6},{"t":212,"s":"X (WGS-84)","v":-0.6},{"t":216,"s":"X (WGS-84)","v":-1.3},{"t":220,"s":"X (WGS-84)","v":-0.2},{"t":224,"s":"X (WGS-84)","v":-1.1},{"t":228,"s":"X (WGS-84)","v":-0.5},{"t":232,"s":"X (WGS-84)","v":-0.8},
{"t":38,"s":"X (WGS-84)","v":-1.5},{"t":42,"s":"X (WGS-84)","v":0.4},{"t":46,"s":"X (WGS-84)","v":-0.9},{"t":50,"s":"X (WGS-84)","v":-2.3},{"t":54,"s":"X (WGS-84)","v":-0.1},{"t":58,"s":"X (WGS-84)","v":-1.4},{"t":62,"s":"X (WGS-84)","v":-0.7},{"t":66,"s":"X (WGS-84)","v":-2.0},{"t":70,"s":"X (WGS-84)","v":-0.3},{"t":74,"s":"X (WGS-84)","v":-1.6},{"t":78,"s":"X (WGS-84)","v":0.1},{"t":82,"s":"X (WGS-84)","v":-1.1},{"t":86,"s":"X (WGS-84)","v":-2.4},{"t":90,"s":"X (WGS-84)","v":-0.6},{"t":94,"s":"X (WGS-84)","v":-1.3},{"t":98,"s":"X (WGS-84)","v":0.2},{"t":102,"s":"X (WGS-84)","v":-1.0},{"t":106,"s":"X (WGS-84)","v":-1.8},{"t":110,"s":"X (WGS-84)","v":-0.4},{"t":114,"s":"X (WGS-84)","v":-2.1},{"t":118,"s":"X (WGS-84)","v":-0.8},{"t":122,"s":"X (WGS-84)","v":-1.5},{"t":126,"s":"X (WGS-84)","v":0.3},{"t":130,"s":"X (WGS-84)","v":-0.9},{"t":134,"s":"X (WGS-84)","v":-1.7},{"t":138,"s":"X (WGS-84)","v":-0.2},{"t":142,"s":"X (WGS-84)","v":-1.2},{"t":146,"s":"X (WGS-84)","v":-2.0},{"t":150,"s":"X (WGS-84)","v":-0.5},{"t":154,"s":"X (WGS-84)","v":-1.4},{"t":158,"s":"X (WGS-84)","v":0.2},{"t":162,"s":"X (WGS-84)","v":-0.9},{"t":166,"s":"X (WGS-84)","v":-2.2},{"t":170,"s":"X (WGS-84)","v":-0.6},{"t":174,"s":"X (WGS-84)","v":-1.3},{"t":178,"s":"X (WGS-84)","v":-0.1},{"t":182,"s":"X (WGS-84)","v":-1.8},{"t":186,"s":"X (WGS-84)","v":-0.7},{"t":190,"s":"X (WGS-84)","v":-1.5},{"t":194,"s":"X (WGS-84)","v":-2.3},{"t":198,"s":"X (WGS-84)","v":-0.4},{"t":202,"s":"X (WGS-84)","v":-1.2},{"t":206,"s":"X (WGS-84)","v":-2.8},{"t":210,"s":"X (WGS-84)","v":-1.9},{"t":214,"s":"X (WGS-84)","v":-3.0},{"t":218,"s":"X (WGS-84)","v":-0.9},{"t":222,"s":"X (WGS-84)","v":-1.6},{"t":226,"s":"X (WGS-84)","v":-0.3},{"t":230,"s":"X (WGS-84)","v":-1.0},
{"t":237,"s":"X (WGS-84)","v":-0.5},{"t":242,"s":"X (WGS-84)","v":-1.8},{"t":245,"s":"X (WGS-84)","v":0.8},{"t":248.8,"s":"X (WGS-84)","v":-10.4},{"t":252,"s":"X (WGS-84)","v":2.0},{"t":257,"s":"X (WGS-84)","v":-41.4},{"t":261.4,"s":"X (WGS-84)","v":-31.2},{"t":263.9,"s":"X (WGS-84)","v":23.5},{"t":266.8,"s":"X (WGS-84)","v":-0.6},{"t":268.9,"s":"X (WGS-84)","v":-12.0},{"t":272,"s":"X (WGS-84)","v":1.0},{"t":275.4,"s":"X (WGS-84)","v":-2.3},{"t":278.6,"s":"X (WGS-84)","v":-3.3},{"t":283,"s":"X (WGS-84)","v":-14.1},{"t":289.4,"s":"X (WGS-84)","v":-4.1},{"t":292.7,"s":"X (WGS-84)","v":19.4},{"t":295.4,"s":"X (WGS-84)","v":33.6},{"t":298,"s":"X (WGS-84)","v":0.5},{"t":303,"s":"X (WGS-84)","v":-0.8},{"t":308,"s":"X (WGS-84)","v":0.6},{"t":313,"s":"X (WGS-84)","v":-1.2},{"t":319.6,"s":"X (WGS-84)","v":-3.0},{"t":324,"s":"X (WGS-84)","v":0.2},{"t":328,"s":"X (WGS-84)","v":-0.9},{"t":333,"s":"X (WGS-84)","v":0.4},{"t":338,"s":"X (WGS-84)","v":-1.1},{"t":343,"s":"X (WGS-84)","v":0.3},{"t":348,"s":"X (WGS-84)","v":-0.6},{"t":353,"s":"X (WGS-84)","v":0.8},{"t":357,"s":"X (WGS-84)","v":-0.4},{"t":360.6,"s":"X (WGS-84)","v":-2.2},
{"t":300.5,"s":"X (WGS-84)","v":-0.3},{"t":305.5,"s":"X (WGS-84)","v":0.9},{"t":310.5,"s":"X (WGS-84)","v":-1.5},{"t":315.5,"s":"X (WGS-84)","v":-0.1},{"t":321,"s":"X (WGS-84)","v":0.7},{"t":326,"s":"X (WGS-84)","v":-1.2},{"t":330.5,"s":"X (WGS-84)","v":-0.4},{"t":335.5,"s":"X (WGS-84)","v":1.0},{"t":340.5,"s":"X (WGS-84)","v":-0.8},{"t":345.5,"s":"X (WGS-84)","v":0.5},{"t":350.5,"s":"X (WGS-84)","v":-1.1},{"t":355,"s":"X (WGS-84)","v":0.3},
{"t":365,"s":"X (WGS-84)","v":0.4},{"t":370,"s":"X (WGS-84)","v":-0.7},{"t":373.6,"s":"X (WGS-84)","v":-1.8},{"t":378,"s":"X (WGS-84)","v":0.6},{"t":383,"s":"X (WGS-84)","v":-0.3},{"t":388,"s":"X (WGS-84)","v":0.9},{"t":393,"s":"X (WGS-84)","v":-0.8},{"t":398,"s":"X (WGS-84)","v":0.2},{"t":403,"s":"X (WGS-84)","v":-1.0},{"t":408,"s":"X (WGS-84)","v":0.7},{"t":413,"s":"X (WGS-84)","v":-0.4},{"t":418,"s":"X (WGS-84)","v":1.0},{"t":423,"s":"X (WGS-84)","v":-0.6},{"t":428,"s":"X (WGS-84)","v":0.3},{"t":433,"s":"X (WGS-84)","v":-1.1},{"t":438,"s":"X (WGS-84)","v":0.5},{"t":441.5,"s":"X (WGS-84)","v":22.6},{"t":446,"s":"X (WGS-84)","v":-0.2},{"t":451,"s":"X (WGS-84)","v":0.8},{"t":456,"s":"X (WGS-84)","v":-0.7},{"t":461,"s":"X (WGS-84)","v":0.4},{"t":466,"s":"X (WGS-84)","v":-0.9},{"t":471,"s":"X (WGS-84)","v":0.6},{"t":476,"s":"X (WGS-84)","v":-0.3},{"t":481,"s":"X (WGS-84)","v":0.9},{"t":486,"s":"X (WGS-84)","v":-0.5},{"t":491,"s":"X (WGS-84)","v":0.3},{"t":496,"s":"X (WGS-84)","v":-0.8},{"t":500,"s":"X (WGS-84)","v":0.5},
{"t":362.5,"s":"X (WGS-84)","v":-0.5},{"t":367.5,"s":"X (WGS-84)","v":0.8},{"t":372.5,"s":"X (WGS-84)","v":-1.2},{"t":377.5,"s":"X (WGS-84)","v":0.1},{"t":382.5,"s":"X (WGS-84)","v":1.1},{"t":387.5,"s":"X (WGS-84)","v":-0.6},{"t":392.5,"s":"X (WGS-84)","v":0.5},{"t":397.5,"s":"X (WGS-84)","v":-1.3},{"t":402.5,"s":"X (WGS-84)","v":0.4},{"t":407.5,"s":"X (WGS-84)","v":-0.2},{"t":412.5,"s":"X (WGS-84)","v":1.2},{"t":417.5,"s":"X (WGS-84)","v":-0.9},{"t":422.5,"s":"X (WGS-84)","v":0.6},{"t":427.5,"s":"X (WGS-84)","v":-0.4},{"t":432.5,"s":"X (WGS-84)","v":0.9},{"t":437.5,"s":"X (WGS-84)","v":-0.7},{"t":447.5,"s":"X (WGS-84)","v":0.3},{"t":452.5,"s":"X (WGS-84)","v":-1.0},{"t":457.5,"s":"X (WGS-84)","v":0.7},{"t":462.5,"s":"X (WGS-84)","v":-0.4},{"t":467.5,"s":"X (WGS-84)","v":1.0},{"t":472.5,"s":"X (WGS-84)","v":-0.8},{"t":477.5,"s":"X (WGS-84)","v":0.5},{"t":482.5,"s":"X (WGS-84)","v":-0.2},{"t":487.5,"s":"X (WGS-84)","v":1.1},{"t":492.5,"s":"X (WGS-84)","v":-0.6},{"t":497.5,"s":"X (WGS-84)","v":0.4}
]
},
"encoding": {
"x": {"field": "t", "type": "quantitative", "scale": {"domain": [-100, 500], "nice": false, "zero": false},
 "axis": {"values": [-100, 0, 100, 200, 300, 400, 500], "grid": false, "domain": false, "ticks": false, "labelFlush": false, "labelOverlap": false, "labelFontSize": 12, "labelColor": "#333333", "labelPadding": 17, "labelExpr": "'' + datum.value", "title": "Time since launch [s]", "titleFontSize": 11.5, "titleFontWeight": "bold", "titleColor": "#222222", "titleX": 463, "titleY": 47, "titleAlign": "center", "titleBaseline": "middle"}},
"y": {"field": "v", "type": "quantitative", "scale": {"domain": [-50, 50], "nice": false, "zero": false},
 "axis": {"values": [-50, -40, -30, -20, -10, 0, 10, 20, 30, 40, 50], "grid": true, "gridColor": "#9a9a9a", "gridWidth": 1.5, "gridOpacity": 1, "domain": false, "ticks": false, "tickSize": 0, "labelFlush": false, "labelOverlap": false, "labelPadding": -143, "labelFontSize": 12, "labelColor": "#333333", "labelExpr": "'' + datum.value", "title": "Position Difference [m]", "titleFontSize": 11.5, "titleFontWeight": "bold", "titleColor": "#222222", "titleAngle": -90, "titleX": -32, "titleY": 271, "titleAlign": "center", "titleBaseline": "middle"}}
},
"layer": [
{"data": {"name": "phase"}, "mark": {"type": "rule", "color": "#1e1e1e", "strokeWidth": 1.2}, "encoding": {"y2": {"field": "v2"}}},
{"data": {"name": "pts"}, "mark": {"type": "point", "opacity": 1, "strokeWidth": 1, "size": 30},
 "encoding": {
  "shape": {"field": "s", "type": "nominal", "scale": {"domain": ["X (WGS-84)", "Y (WGS-84)", "Z (WGS-84)", "sig(PR)"], "range": ["diamond", "square", "triangle-up", "M-5,0H5"]},
   "legend": {"title": null, "orient": "none", "legendX": 741, "legendY": 408, "padding": 9, "strokeColor": "#888888", "fillColor": "white", "labelFontSize": 13, "labelColor": "#333333", "labelFont": "Liberation Sans", "rowPadding": 15, "symbolOffset": 37, "labelOffset": 7, "symbolSize": 30, "symbolStrokeWidth": 1}},
  "fill": {"field": "s", "type": "nominal", "scale": {"domain": ["X (WGS-84)", "Y (WGS-84)", "Z (WGS-84)", "sig(PR)"], "range": ["#6a6a6a", "#8c8c8c", "transparent", "transparent"]},
   "legend": {"title": null, "orient": "none", "legendX": 741, "legendY": 408, "padding": 9, "strokeColor": "#888888", "fillColor": "white", "labelFontSize": 13, "labelColor": "#333333", "labelFont": "Liberation Sans", "rowPadding": 15, "symbolOffset": 37, "labelOffset": 7, "symbolSize": 30, "symbolStrokeWidth": 1}},
  "stroke": {"field": "s", "type": "nominal", "scale": {"domain": ["X (WGS-84)", "Y (WGS-84)", "Z (WGS-84)", "sig(PR)"], "range": ["#6a6a6a", "#8c8c8c", "#a8a8a8", "#6f6f6f"]},
   "legend": {"title": null, "orient": "none", "legendX": 741, "legendY": 408, "padding": 9, "strokeColor": "#888888", "fillColor": "white", "labelFontSize": 13, "labelColor": "#333333", "labelFont": "Liberation Sans", "rowPadding": 15, "symbolOffset": 37, "labelOffset": 7, "symbolSize": 30, "symbolStrokeWidth": 1}}
 }},
{"data": {"name": "sig"}, "mark": {"type": "line", "color": "#7a7a7a", "strokeWidth": 1.4}, "encoding": {}},
{"data": {"name": "shafts"}, "mark": {"type": "rule", "color": "#7a7a7a", "strokeWidth": 1.5}, "encoding": {"x2": {"field": "t2"}}},
{"data": {"name": "headsR"}, "mark": {"type": "point", "shape": "triangle-right", "filled": true, "color": "#111111", "opacity": 1, "size": 55}, "encoding": {}},
{"data": {"name": "headsL"}, "mark": {"type": "point", "shape": "triangle-left", "filled": true, "color": "#111111", "opacity": 1, "size": 55}, "encoding": {}},
{"data": {"name": "labels"}, "mark": {"type": "text", "font": "Liberation Sans", "fontSize": 13, "fontWeight": "bold", "color": "#222222", "align": "center", "baseline": "middle"}, "encoding": {"text": {"field": "label"}}}
]
}
